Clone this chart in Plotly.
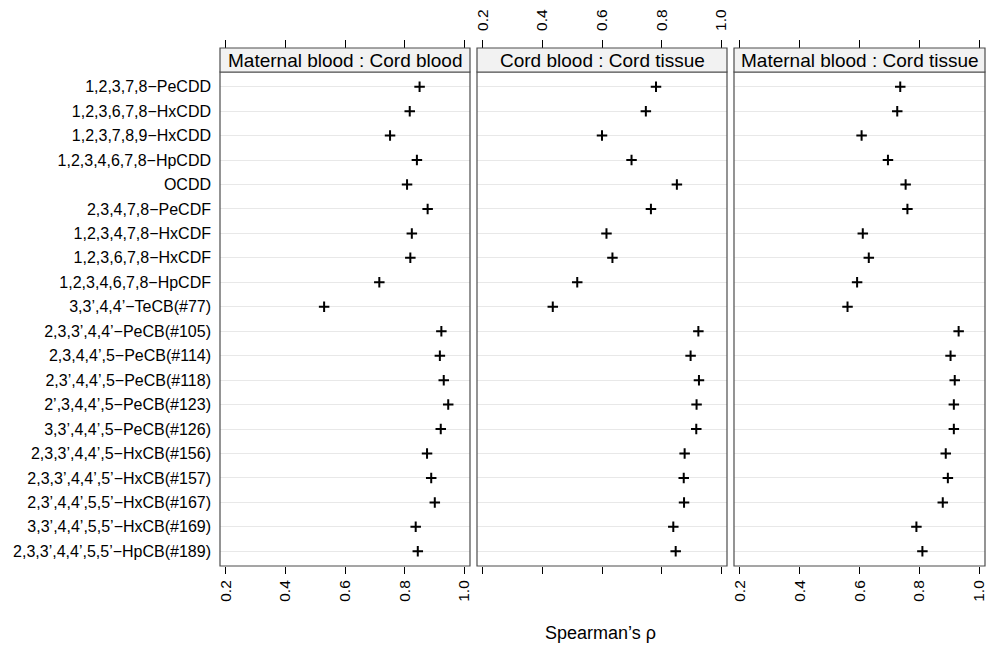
import plotly.graph_objects as go

compounds = [
    "1,2,3,7,8−PeCDD", "1,2,3,6,7,8−HxCDD", "1,2,3,7,8,9−HxCDD", "1,2,3,4,6,7,8−HpCDD",
    "OCDD", "2,3,4,7,8−PeCDF", "1,2,3,4,7,8−HxCDF", "1,2,3,6,7,8−HxCDF",
    "1,2,3,4,6,7,8−HpCDF", "3,3’,4,4’−TeCB(#77)", "2,3,3’,4,4’−PeCB(#105)",
    "2,3,4,4’,5−PeCB(#114)", "2,3’,4,4’,5−PeCB(#118)", "2’,3,4,4’,5−PeCB(#123)",
    "3,3’,4,4’,5−PeCB(#126)", "2,3,3’,4,4’,5−HxCB(#156)", "2,3,3’,4,4’,5’−HxCB(#157)",
    "2,3’,4,4’,5,5’−HxCB(#167)", "3,3’,4,4’,5,5’−HxCB(#169)", "2,3,3’,4,4’,5,5’−HpCB(#189)",
]
panel_titles = ["Maternal blood : Cord blood", "Cord blood : Cord tissue", "Maternal blood : Cord tissue"]

maternal_cord_blood = [0.850, 0.817, 0.751, 0.841, 0.808, 0.877, 0.824, 0.819, 0.715, 0.530,
                       0.923, 0.918, 0.931, 0.946, 0.921, 0.875, 0.889, 0.901, 0.837, 0.844]
cord_blood_tissue = [0.781, 0.747, 0.600, 0.699, 0.851, 0.764, 0.615, 0.635, 0.517, 0.435,
                     0.923, 0.897, 0.925, 0.917, 0.916, 0.877, 0.874, 0.875, 0.839, 0.847]
maternal_cord_tissue = [0.736, 0.726, 0.607, 0.695, 0.754, 0.760, 0.611, 0.631, 0.592, 0.560,
                        0.931, 0.904, 0.918, 0.915, 0.915, 0.888, 0.895, 0.878, 0.790, 0.810]
series = [maternal_cord_blood, cord_blood_tissue, maternal_cord_tissue]

tick_vals = [0.2, 0.4, 0.6, 0.8, 1.0]
tick_text = ["0.2", "0.4", "0.6", "0.8", "1.0"]

W, H = 995, 647
FONT = "Liberation Sans, Arial, Helvetica, sans-serif"
x_px = [(220, 470), (477, 727), (734, 985)]
panel_top, panel_bot, strip_top = 72, 566, 48
ydom = [(H - panel_bot) / H, (H - panel_top) / H]
strip_y = [(H - panel_top) / H, (H - strip_top) / H]
xr = [0.181, 1.019]
rows = list(range(1, len(compounds) + 1))

fig = go.Figure()
layout = dict(width=W, height=H, margin=dict(l=0, r=0, t=0, b=0, autoexpand=False),
              paper_bgcolor="white", plot_bgcolor="white", showlegend=False,
              font=dict(family=FONT, color="black"))
shapes = []
annotations = []
TICKFONT = dict(size=15.5, family=FONT, color="black")
for i, vals in enumerate(series):
    n = i + 1
    xa = "x" if n == 1 else f"x{n}"
    ya = "y" if n == 1 else f"y{n}"
    top_n = n + 3
    fig.add_trace(go.Scatter(x=vals, y=rows, mode="markers", xaxis=xa, yaxis=ya,
                             marker=dict(symbol="cross-thin", size=7.5, color="black",
                                         line=dict(color="black", width=2)),
                             hoverinfo="x+y"))
    fig.add_trace(go.Scatter(x=vals, y=rows, mode="markers", xaxis=f"x{top_n}", yaxis=ya,
                             marker=dict(opacity=0), hoverinfo="skip"))
    dom = [x_px[i][0] / W, x_px[i][1] / W]
    layout[f"xaxis{'' if n == 1 else n}"] = dict(
        domain=dom, range=xr, anchor=ya, tickvals=tick_vals, ticktext=tick_text,
        showticklabels=(n != 2), ticks="outside", ticklen=7, tickwidth=1, tickcolor="black",
        tickangle=-90, tickfont=TICKFONT, ticklabelstandoff=0,
        showgrid=False, zeroline=False, showline=False, fixedrange=True)
    layout[f"xaxis{top_n}"] = dict(
        range=xr, overlaying=xa, anchor="free", position=strip_y[1], side="top",
        tickvals=tick_vals, ticktext=tick_text, showticklabels=(n == 2),
        ticks="outside", ticklen=8, tickwidth=1, tickcolor="black",
        tickangle=-90, tickfont=TICKFONT, ticklabelstandoff=6,
        showgrid=False, zeroline=False, showline=False, fixedrange=True)
    layout[f"yaxis{'' if n == 1 else n}"] = dict(
        domain=ydom, range=[20.6, 0.4], anchor=xa, tickvals=rows, ticktext=compounds,
        showticklabels=(n == 1), ticks="", ticklabelstandoff=8,
        tickfont=dict(size=16, family=FONT, color="black"),
        showgrid=True, gridcolor="#e8e8e8", gridwidth=1, zeroline=False, showline=False,
        fixedrange=True)
    shapes.append(dict(type="rect", xref="paper", yref="paper", x0=dom[0], x1=dom[1],
                       y0=ydom[0], y1=ydom[1], line=dict(color="#4d4d4d", width=1.2),
                       fillcolor="rgba(0,0,0,0)", layer="above"))
    shapes.append(dict(type="rect", xref="paper", yref="paper", x0=dom[0], x1=dom[1],
                       y0=strip_y[0], y1=strip_y[1], line=dict(color="#4d4d4d", width=1.2),
                       fillcolor="#f2f2f2", layer="above"))
    annotations.append(dict(x=(dom[0] + dom[1]) / 2, y=(strip_y[0] + strip_y[1]) / 2,
                            xref="paper", yref="paper", text=panel_titles[i], showarrow=False,
                            font=dict(size=19, family=FONT, color="black"),
                            xanchor="center", yanchor="middle"))

annotations.append(dict(x=600 / W, y=(H - 633) / H, xref="paper", yref="paper",
                        text="Spearman’s ρ", showarrow=False,
                        font=dict(size=18, family=FONT, color="black"),
                        xanchor="center", yanchor="middle"))
layout["shapes"] = shapes
layout["annotations"] = annotations
fig.update_layout(**layout)
fig.write_html("out.html", config={"displayModeBar": False},
               post_script="document.body.style.margin='0px';document.body.style.overflow='hidden';")
